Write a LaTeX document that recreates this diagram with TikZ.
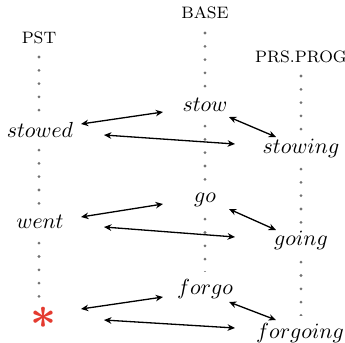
\documentclass[tikz,border=0pt]{standalone}
\usepackage{bm}
\usetikzlibrary{arrows.meta,calc}
\definecolor{starred}{RGB}{228,59,48}
\begin{document}
\begin{tikzpicture}[x=0.4587pt,y=-0.4587pt,
  lab/.style={anchor=base,font=\fontsize{7.6pt}{9pt}\selectfont,inner sep=1pt},
  word/.style={anchor=base,fill=white,inner sep=3pt},
  dotline/.style={draw=black!55,line width=1.4pt,line cap=round,dash pattern=on 0pt off 6.1pt},
  arr/.style={{Stealth[length=3.4pt,width=3pt]}-{Stealth[length=3.4pt,width=3pt]},line width=0.6pt}]
\useasboundingbox (0,0) rectangle (345,342);
% column labels
\node[lab] (pst) at (39,43) {PST};
\node[lab] (base) at (205,18) {BASE};
\node[lab] (prs) at (301,62) {PRS.PROG};
% dotted columns
\draw[dotline] (39,57) -- (39,296.5);
\draw[dotline] (205,33) -- (205,272.5);
\draw[dotline] (301,76) -- (301,315.5);
% words
\node[word] (stowed) at (40,137) {$stowed$};
\node[word] (went) at (40,228) {$went$};
\node[fill=white,inner sep=1pt,text=starred,font=\huge] (star) at (43,318) {$\bm{\ast}$};
\node[word] (stow) at (205,111) {$stow$};
\node[word] (go) at (205,202) {$go$};
\node[word] (forgo) at (205,294) {$forgo$};
\node[word] (stowing) at (301,153) {$stowing$};
\node[word] (going) at (301,245) {$going$};
\node[word] (forgoing) at (300,338) {$forgoing$};
% arrows
\draw[arr] ($(stowed.base)+(41,-13)$) -- ($(stow.base)+(-42,1)$);
\draw[arr] ($(stowed.base)+(64,-2)$) -- ($(stowing.base)+(-66,-9)$);
\draw[arr] ($(stow.base)+(24,6)$) -- ($(stowing.base)+(-25,-16)$);
\draw[arr] ($(went.base)+(41,-11)$) -- ($(go.base)+(-42,2)$);
\draw[arr] ($(went.base)+(64,-1)$) -- ($(going.base)+(-66,-8)$);
\draw[arr] ($(go.base)+(24,7)$) -- ($(going.base)+(-25,-15)$);
\draw[arr] ($(star.center)+(38,-9)$) -- ($(forgo.base)+(-42,3)$);
\draw[arr] ($(star.center)+(61,2)$) -- ($(forgoing.base)+(-65,-10)$);
\draw[arr] ($(forgo.base)+(24,8)$) -- ($(forgoing.base)+(-24,-18)$);
\end{tikzpicture}
\end{document}
